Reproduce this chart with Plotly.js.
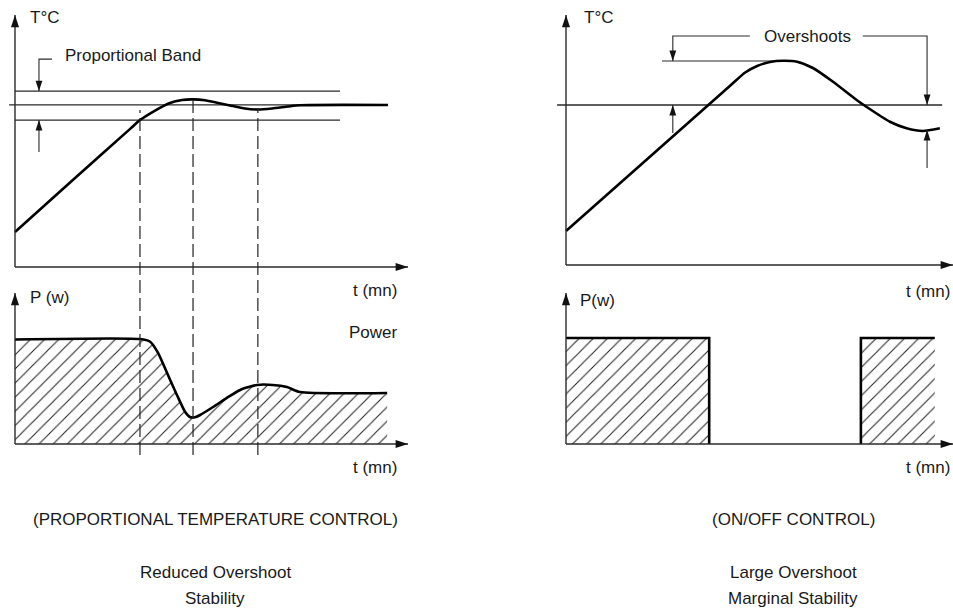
<!DOCTYPE html>
<html><head><meta charset="utf-8">
<script src="https://cdn.plot.ly/plotly-3.0.1.min.js"></script>
<style>html,body{margin:0;padding:0;background:#fff}#chart{width:953px;height:613px}</style>
</head><body><div id="chart"></div>
<script>
// ---------- data (schematic units: time 0-100, temperature 0-100, power 0-100) ----------
const propTempT = [0, 14.5, 29.3, 31.8, 35.1, 39.4, 42.5, 45.3, 48.3, 51.7, 54.7, 58.5, 61.8, 65.4, 69.5, 72.5, 94.9];
const propTempV = [13.9, 34.2, 54.8, 58.3, 61.6, 65.1, 66.3, 66.5, 66.2, 65.1, 64.1, 62.9, 62.5, 62.9, 63.7, 64.2, 64.3];
const setpointProp = 64.3;
const bandHigh = 69.8;
const bandLow = 58.3;
const bandEnd = 82.7;
const propPowerT = [0, 31.8, 34.4, 36.4, 38.7, 41.2, 43.3, 44.5, 45.8, 47.1, 50.4, 53.9, 57.3, 61.6, 65.6, 69.2, 72.5, 94.7];
const propPowerV = [69.2, 69.5, 67.7, 60.3, 47.0, 32.5, 21.2, 17.9, 17.7, 19.2, 24.5, 30.5, 35.8, 39.1, 39.1, 37.7, 34.4, 33.8];
const markerTimes = [31.8, 45.3, 61.8];
const markerTops = [62.3, 68.3, 63.1];
const onoffTempT = [0, 42.4, 46.3, 49.4, 52.7, 56.1, 59.7, 63.8, 69.0, 75.1, 77.7, 83.7, 88.0, 92.2, 96.6];
const onoffTempV = [13.6, 71.7, 77.0, 79.6, 81.2, 81.7, 81.3, 78.8, 73.3, 66.0, 63.2, 57.3, 54.7, 53.6, 54.7];
const setpointOnOff = 64;
const overshootHigh = 81.6;
const overshootLow = 54;
const onStart = [0, 76.2];
const onEnd = [37, 95.3];
const powerOn = 70.2;

// ---------- layout helpers ----------
const W = 953, H = 613;
const FONT = "'Liberation Sans', Arial, sans-serif";
function xAx(px0, px100, lo, hi) {
  const s = (px100 - px0) / 100;
  return {domain: [lo / W, hi / W], range: [(lo - px0) / s, (hi - px0) / s]};
}
function yAx(py0, py100, top, bottom) {
  const s = (py0 - py100) / 100;
  return {domain: [1 - bottom / H, 1 - top / H], range: [(py0 - bottom) / s, (py0 - top) / s]};
}
const base = {visible: false, fixedrange: true, autorange: false};
const ax = {
  x: Object.assign({}, base, xAx(15, 408, 0, 476), {anchor: 'y'}),
  x2: Object.assign({}, base, xAx(566, 953, 477, 953), {anchor: 'y3'}),
  y: Object.assign({}, base, yAx(267, 15, 0, 285), {anchor: 'x'}),
  y2: Object.assign({}, base, yAx(444, 293, 285, 490), {anchor: 'x'}),
  y3: Object.assign({}, base, yAx(265, 15, 0, 285), {anchor: 'x2'}),
  y4: Object.assign({}, base, yAx(444, 293, 285, 490), {anchor: 'x2'})
};
function toPaperY(axis, v) {
  const a = ax[axis];
  return a.domain[0] + (v - a.range[0]) / (a.range[1] - a.range[0]) * (a.domain[1] - a.domain[0]);
}
const px = x => x / W, py = y => 1 - y / H;

const AXC = '#2a2a2a', THIN = '#2a2a2a';
function line(x, y, xa, ya, w, c, extra) {
  return Object.assign({type: 'scatter', mode: 'lines', x: x, y: y, xaxis: xa, yaxis: ya,
    line: {color: c || THIN, width: w || 1.2}, hoverinfo: 'skip'}, extra || {});
}
function heads(x, y, ang, xa, ya, size) {
  return {type: 'scatter', mode: 'markers', x: x, y: y, xaxis: xa, yaxis: ya, cliponaxis: false,
    marker: {symbol: 'arrow', size: size || 13, angle: ang, color: '#111', line: {width: 0}}, hoverinfo: 'skip'};
}
const hatch = {shape: '/', size: 10, solidity: 0.1, fgcolor: '#222', bgcolor: 'white', fillmode: 'replace'};

const traces = [];
// ---- top-left: proportional temperature
traces.push(line([0, bandEnd], [bandHigh, bandHigh], 'x', 'y', 1.1));
traces.push(line([0, bandEnd], [bandLow, bandLow], 'x', 'y', 1.1));
traces.push(line([-1.5, 94.9], [setpointProp, setpointProp], 'x', 'y', 1.3));
traces.push(line(propTempT, propTempV, 'x', 'y', 2.6, '#000', {line: {color: '#000', width: 2.6, shape: 'spline', smoothing: 0.6}}));
traces.push(line([0, 0], [0, 100], 'x', 'y', 1.4, AXC));
traces.push(line([0, 100], [0, 0], 'x', 'y', 1.4, AXC));
traces.push(line([9.4, 6.1, 6.1], [82.5, 82.5, bandHigh], 'x', 'y', 1.1));
traces.push(line([6.1, 6.1], [45.6, bandLow], 'x', 'y', 1.1));
traces.push(heads([0, 100], [100, 0], [0, 90], 'x', 'y', 13));
traces.push(heads([6.1, 6.1], [bandHigh, bandLow], [180, 0], 'x', 'y', 11));
// ---- bottom-left: proportional power
traces.push(line(propPowerT, propPowerV, 'x', 'y2', 2.6, '#000',
  {line: {color: '#000', width: 2.6, shape: 'spline', smoothing: 0.6}, fill: 'tozeroy', fillcolor: 'white', fillpattern: hatch}));
traces.push(line([0, 0], [0, 100], 'x', 'y2', 1.4, AXC));
traces.push(line([0, 100], [0, 0], 'x', 'y2', 1.4, AXC));
traces.push(heads([0, 100], [100, 0], [0, 90], 'x', 'y2', 13));
// ---- top-right: on/off temperature
traces.push(line([-2.3, 97.2], [setpointOnOff, setpointOnOff], 'x2', 'y3', 1.3));
traces.push(line([24.8, 57.9], [overshootHigh, overshootHigh], 'x2', 'y3', 1.1));
traces.push(line(onoffTempT, onoffTempV, 'x2', 'y3', 2.6, '#000', {line: {color: '#000', width: 2.6, shape: 'spline', smoothing: 0.6}}));
traces.push(line([0, 0], [0, 100], 'x2', 'y3', 1.4, AXC));
traces.push(line([0, 100], [0, 0], 'x2', 'y3', 1.4, AXC));
traces.push(line([27.6, 27.6, 47.5], [overshootHigh, 91.6, 91.6], 'x2', 'y3', 1.1));
traces.push(line([76.7, 93.3, 93.3], [91.6, 91.6, setpointOnOff], 'x2', 'y3', 1.1));
traces.push(line([27.6, 27.6], [52.8, setpointOnOff], 'x2', 'y3', 1.1));
traces.push(line([93.3, 93.3], [38.8, overshootLow], 'x2', 'y3', 1.1));
traces.push(heads([0, 100], [100, 0], [0, 90], 'x2', 'y3', 13));
traces.push(heads([27.6, 93.3, 27.6, 93.3], [overshootHigh, setpointOnOff, setpointOnOff, overshootLow], [180, 180, 0, 0], 'x2', 'y3', 11));
// ---- bottom-right: on/off power
for (let i = 0; i < onStart.length; i++) {
  const xs = i === 0 ? [onStart[i], onEnd[i], onEnd[i]] : [onStart[i], onStart[i], onEnd[i]];
  const ys = i === 0 ? [powerOn, powerOn, 0] : [0, powerOn, powerOn];
  traces.push(line(xs, ys, 'x2', 'y4', 2.6, '#000', {fill: 'tozeroy', fillcolor: 'white', fillpattern: hatch}));
}
traces.push(line([0, 0], [0, 100], 'x2', 'y4', 1.4, AXC));
traces.push(line([0, 100], [0, 0], 'x2', 'y4', 1.4, AXC));
traces.push(heads([0, 100], [100, 0], [0, 90], 'x2', 'y4', 13));

// ---- dashed markers spanning both left panels
const shapes = markerTimes.map((t, i) => ({
  type: 'line', xref: 'x', yref: 'paper', x0: t, x1: t,
  y0: py(455), y1: toPaperY('y', markerTops[i]),
  line: {color: '#222', width: 1.2, dash: '13px,5px'}
}));

function txt(text, x, y, xanchor, size) {
  return {text: text, xref: 'paper', yref: 'paper', x: px(x), y: py(y), xanchor: xanchor || 'left', yanchor: 'middle',
    showarrow: false, font: {family: FONT, size: size || 17, color: '#1a1a1a'}};
}
const annotations = [
  txt('T°C', 28, 18),
  txt('Proportional Band', 63, 56),
  txt('t (mn)', 399, 290, 'right'),
  txt('P (w)', 28, 297),
  txt('Power', 400, 332, 'right'),
  txt('t (mn)', 399, 468, 'right'),
  txt('T°C', 582, 18),
  txt('Overshoots', 807, 37, 'center'),
  txt('t (mn)', 952, 291, 'right'),
  txt('P(w)', 578, 300),
  txt('t (mn)', 952, 468, 'right'),
  txt('(PROPORTIONAL TEMPERATURE CONTROL)', 215, 519, 'center'),
  txt('Reduced Overshoot', 215, 572, 'center'),
  txt('Stability', 215, 598, 'center'),
  txt('(ON/OFF CONTROL)', 793, 519, 'center'),
  txt('Large Overshoot', 793, 572, 'center'),
  txt('Marginal Stability', 793, 598, 'center')
];

const layout = Object.assign({
  width: W, height: H, margin: {l: 0, r: 0, t: 0, b: 0},
  paper_bgcolor: 'white', plot_bgcolor: 'rgba(0,0,0,0)', showlegend: false,
  xaxis: ax.x, xaxis2: ax.x2, yaxis: ax.y, yaxis2: ax.y2, yaxis3: ax.y3, yaxis4: ax.y4,
  shapes: shapes, annotations: annotations, hovermode: false
});
Plotly.newPlot('chart', traces, layout, {staticPlot: true, displayModeBar: false});
</script></body></html>
